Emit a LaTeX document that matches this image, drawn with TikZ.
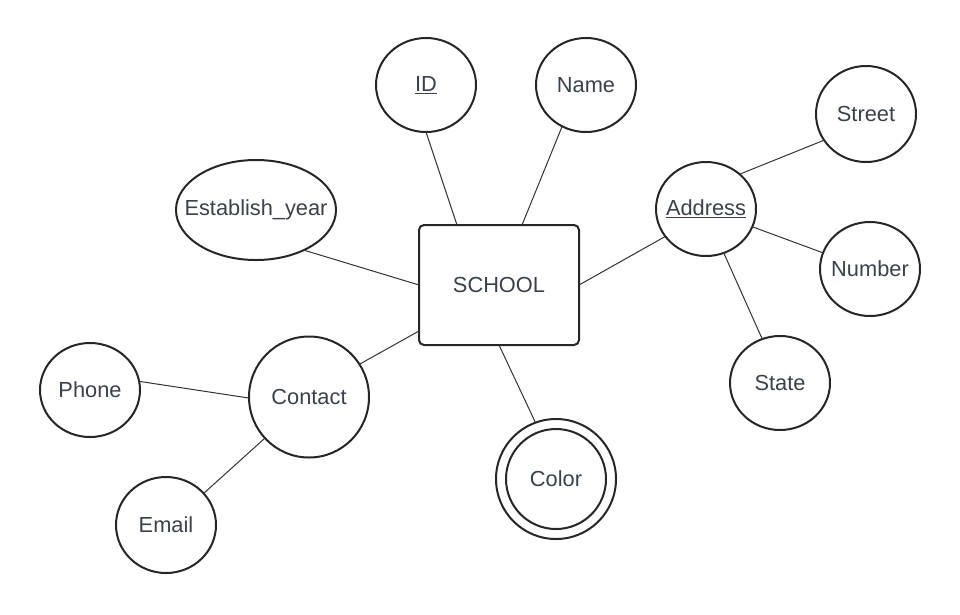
\documentclass[tikz,border=0pt]{standalone}
\usepackage{fontspec}
\setmainfont{Liberation Sans}
\usetikzlibrary{shapes.geometric}
\definecolor{txt}{HTML}{3A414A}
\definecolor{edge}{HTML}{262626}
\definecolor{conn}{HTML}{333333}
\tikzset{
  attr/.style={ellipse, draw=edge, line width=2pt, inner ysep=0pt, inner xsep=-20pt,
    outer sep=0pt, minimum width=100pt, minimum height=94pt, text=txt,
    font=\fontsize{21.8}{24}\selectfont},
  entity/.style={rectangle, rounded corners=5pt, draw=edge, line width=2pt,
    inner sep=0pt, outer sep=0pt, minimum width=160pt, minimum height=120pt,
    text=txt, font=\fontsize{21.8}{24}\selectfont},
  link/.style={draw=conn, line width=1pt}
}
\begin{document}
\begin{tikzpicture}[x=1pt,y=-1pt]
\useasboundingbox (0,0) rectangle (960,614);
\node[entity] (school) at (499,285) {SCHOOL};
\node[attr] (id) at (426,85) {\underline{ID}};
\node[attr] (name) at (586,85) {Name};
\node[attr, minimum width=160pt, minimum height=100pt] (est) at (256,210) {Establish\_year};
\node[attr, minimum height=94pt] (address) at (706,209) {\underline{Address}};
\node[attr, minimum height=96pt] (street) at (866,114) {Street};
\node[attr] (number) at (870,269) {Number};
\node[attr] (state) at (780,383) {State};
\node[attr] (phone) at (90,390) {Phone};
\node[attr, minimum width=120pt, minimum height=121pt] (contact) at (309,397) {Contact};
\node[attr, minimum height=96pt] (email) at (166,525) {Email};
\node[attr, circle, inner sep=0pt, minimum size=120pt,
  path picture={\draw[draw=edge, line width=2pt] (path picture bounding box.center) circle[radius=50pt];}]
  (color) at (556,479) {Color};

\draw[link] (id.270) -- ([xshift=38pt]school.north west);
\draw[link] (name.240) -- ([xshift=103pt]school.north west);
\draw[link] (est.-40.5) -- (school.west);
\draw[link] (address.214) -- (school.east);
\draw[link] (contact.33.7) -- ([yshift=-46pt]school.west);
\draw[link] (color.110) -- (school.south);
\draw[link] (address.46.6) -- (street.212.7);
\draw[link] (address.-21.6) -- (number.161);
\draw[link] (address.292.4) -- (state.112.7);
\draw[link] (phone.10) -- (contact.181);
\draw[link] (email.40.9) -- (contact.223);
\end{tikzpicture}
\end{document}
